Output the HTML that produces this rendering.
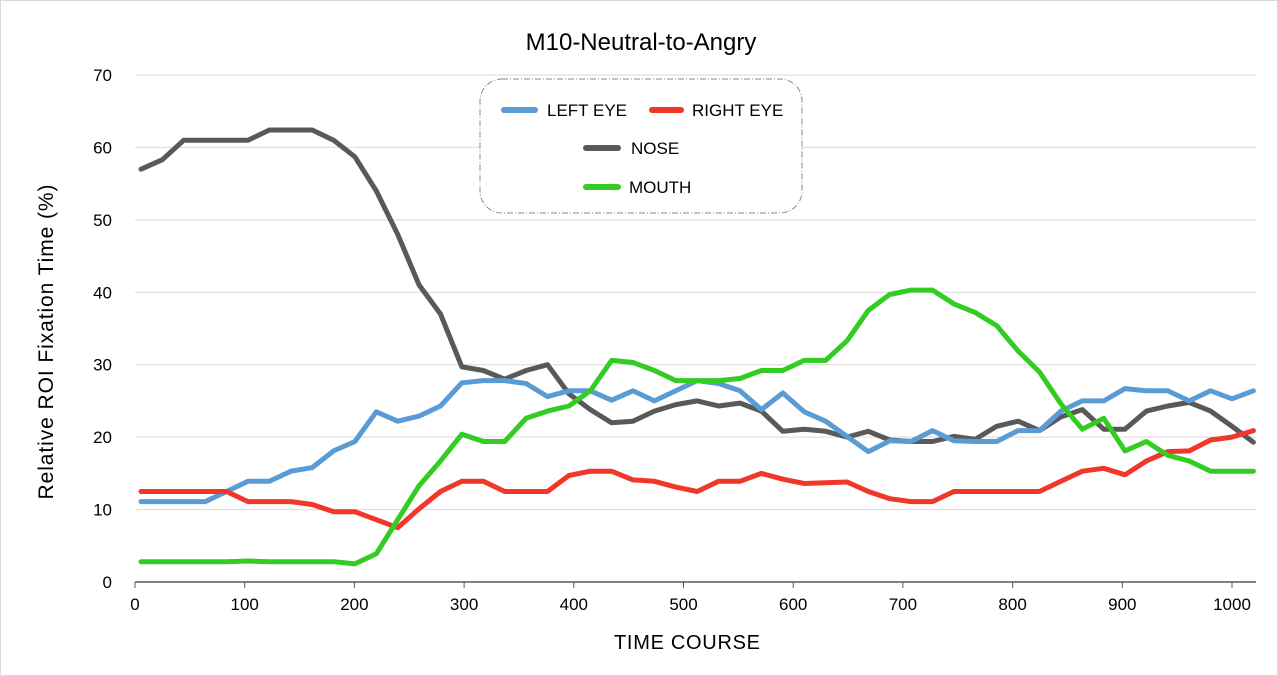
<!DOCTYPE html>
<html><head><meta charset="utf-8"><style>
body{margin:0;background:#fff;}
svg{display:block;font-family:"Liberation Sans","DejaVu Sans",sans-serif;}
</style></head><body>
<svg id="chart" width="1278" height="676">
<rect x="0.5" y="0.5" width="1277" height="675" fill="#fff" stroke="#d9d9d9"/>
<text x="641" y="50" text-anchor="middle" font-size="24" fill="#000">M10-Neutral-to-Angry</text>
<g id="grid"></g>
<g id="axes"></g>
<g id="series"></g>
<text x="687" y="649" text-anchor="middle" font-size="20" fill="#000" textLength="146">TIME  COURSE</text>
<text transform="translate(53,342) rotate(-90)" text-anchor="middle" font-size="21" fill="#000" textLength="315">Relative  ROI  Fixation  Time  (%)</text>
<g>
<rect x="480" y="79" width="322" height="134" rx="22" fill="#fff" stroke="#888" stroke-dasharray="6,2,1,2"/>
<line x1="504" y1="110" x2="535" y2="110" stroke="#5b9bd5" stroke-width="6" stroke-linecap="round"/>
<text x="547" y="116" font-size="17">LEFT EYE</text>
<line x1="652" y1="110" x2="681" y2="110" stroke="#f0372a" stroke-width="6" stroke-linecap="round"/>
<text x="692" y="116" font-size="17">RIGHT EYE</text>
<line x1="586" y1="148" x2="618" y2="148" stroke="#595959" stroke-width="6" stroke-linecap="round"/>
<text x="631" y="154" font-size="17">NOSE</text>
<line x1="586" y1="187" x2="618" y2="187" stroke="#33cc22" stroke-width="6" stroke-linecap="round"/>
<text x="629" y="193" font-size="17">MOUTH</text>
</g>
</svg>
<script>
const xTicks=[0,100,200,300,400,500,600,700,800,900,1000];
const yTicks=[0,10,20,30,40,50,60,70];
const leftEye=[11.1,11.1,11.1,11.1,12.5,13.9,13.9,15.3,15.8,18.1,19.4,23.5,22.2,22.9,24.3,27.5,27.8,27.8,27.4,25.6,26.4,26.4,25.1,26.4,25.0,26.4,27.8,27.4,26.4,23.8,26.1,23.5,22.2,20.1,18.0,19.5,19.4,20.9,19.5,19.4,19.4,20.9,20.9,23.6,25.0,25.0,26.7,26.4,26.4,25.0,26.4,25.3,26.4];
const rightEye=[12.5,12.5,12.5,12.5,12.5,11.1,11.1,11.1,10.7,9.7,9.7,8.6,7.5,10.1,12.5,13.9,13.9,12.5,12.5,12.5,14.7,15.3,15.3,14.1,13.9,13.1,12.5,13.9,13.9,15.0,14.2,13.6,13.7,13.8,12.5,11.5,11.1,11.1,12.5,12.5,12.5,12.5,12.5,13.9,15.3,15.7,14.8,16.7,18.0,18.1,19.6,20.0,20.9];
const nose=[57,58.3,61,61,61,61,62.4,62.4,62.4,61,58.7,54,48,41,37,29.7,29.2,28,29.2,30,26,23.8,22,22.2,23.6,24.5,25,24.3,24.7,23.6,20.8,21.1,20.8,20,20.8,19.6,19.4,19.4,20.1,19.7,21.5,22.2,20.9,22.8,23.8,21.1,21.1,23.6,24.3,24.8,23.6,21.5,19.3];
const mouth=[2.8,2.8,2.8,2.8,2.8,2.9,2.8,2.8,2.8,2.8,2.5,3.9,8.6,13.3,16.7,20.4,19.4,19.4,22.6,23.6,24.3,26.4,30.6,30.3,29.2,27.8,27.8,27.8,28.1,29.2,29.2,30.6,30.6,33.3,37.5,39.7,40.3,40.3,38.4,37.2,35.4,31.9,29.0,24.6,21.1,22.6,18.1,19.4,17.5,16.7,15.3,15.3,15.3];
const xStart=5.5, xStep=19.5;
const X0=135,X1=1232,Y0=582,Y70=75;
const sx=v=>X0+(X1-X0)*v/1000;
const sy=v=>Y0-(Y0-Y70)*v/70;
const NS="http://www.w3.org/2000/svg";
function mk(tag,attrs,parent){const e=document.createElementNS(NS,tag);for(const k in attrs)e.setAttribute(k,attrs[k]);parent.appendChild(e);return e;}
const grid=document.getElementById('grid'),axes=document.getElementById('axes'),ser=document.getElementById('series');
yTicks.forEach(t=>{
  if(t>0){const l=mk('line',{x1:X0,x2:1256,y1:sy(t),y2:sy(t),stroke:'#d9d9d9','stroke-width':1},grid);
  
  }
  const tx=mk('text',{x:112,y:sy(t)+6,'text-anchor':'end','font-size':17,fill:'#000'},axes);
  tx.textContent=t;
  
  
});
const ax=mk('line',{x1:X0,x2:1256,y1:Y0,y2:Y0,stroke:'#595959','stroke-width':1.5},axes);


xTicks.forEach(t=>{
  const tk=mk('line',{x1:sx(t),x2:sx(t),y1:Y0,y2:Y0+6,stroke:'#595959'},axes);
  
  
  const tx=mk('text',{x:sx(t),y:Y0+28,'text-anchor':'middle','font-size':17,fill:'#000'},axes);
  tx.textContent=t;
  
  
});
function line(data,color,name){
  const pts=data.map((v,i)=>sx(xStart+i*xStep).toFixed(1)+','+sy(v).toFixed(1)).join(' ');
  const p=mk('polyline',{points:pts,fill:'none',stroke:color,'stroke-width':5,'stroke-linejoin':'round','stroke-linecap':'round'},ser);
  
  
}
line(nose,'#595959','series-nose');
line(leftEye,'#5b9bd5','series-left-eye');
line(rightEye,'#f0372a','series-right-eye');
line(mouth,'#33cc22','series-mouth');
</script>
</body></html>
